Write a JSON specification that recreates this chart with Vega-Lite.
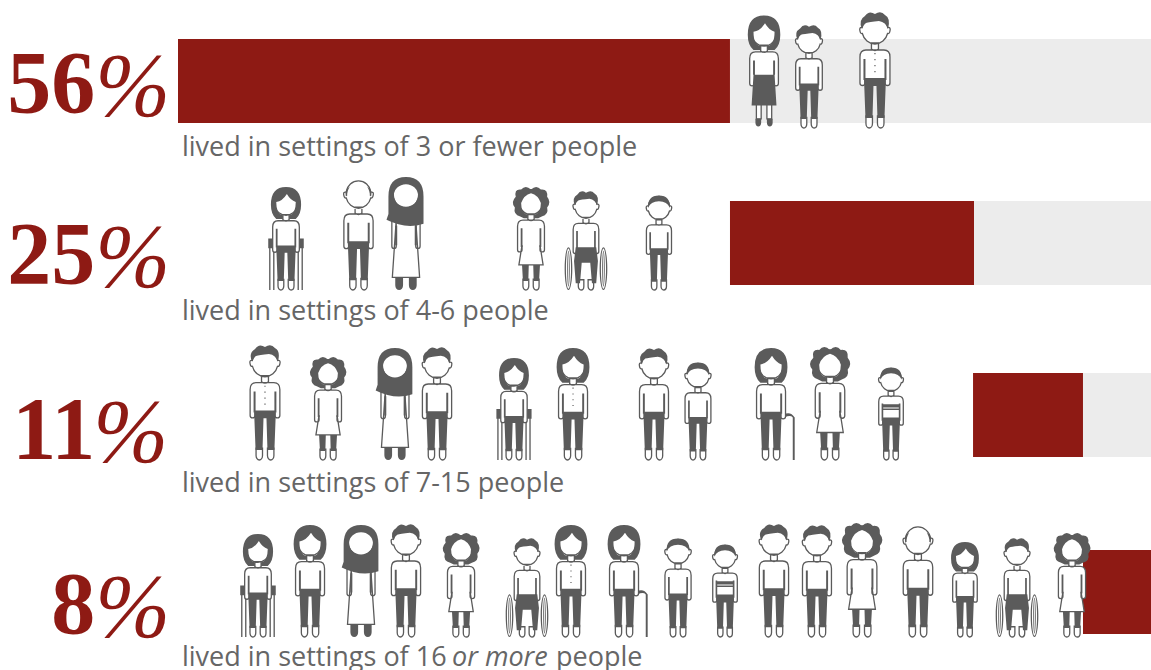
{"$schema":"https://vega.github.io/schema/vega-lite/v6.json","width":1151,"height":670,"padding":0,"autosize":{"type":"none"},"background":"#ffffff","config":{"view":{"stroke":null}},
"datasets":{
"bars":[
{"setting":"3 or fewer","part":"share","start":0,"end":56.73,"top":39,"bottom":123},
{"setting":"3 or fewer","part":"rest","start":56.73,"end":100,"top":39,"bottom":123},
{"setting":"4-6","part":"share","start":56.73,"end":81.81,"top":201,"bottom":285},
{"setting":"4-6","part":"rest","start":81.81,"end":100,"top":201,"bottom":285},
{"setting":"7-15","part":"share","start":81.71,"end":93.01,"top":373,"bottom":457},
{"setting":"7-15","part":"rest","start":93.01,"end":100,"top":373,"bottom":457},
{"setting":"16+","part":"share","start":93.01,"end":100,"top":550,"bottom":634}],
"people":[
{"x":60.23,"feet":126.5,"stature":111,"hair":"long","top":"bare","bottom":"skirt"},
{"x":64.85,"feet":128,"stature":103,"hair":"tousled","top":"shirt","bottom":"trousers"},
{"x":71.63,"feet":128,"stature":116,"hair":"tousled","top":"shirt","bottom":"buttoned"},
{"x":11.1,"feet":290,"stature":103,"hair":"long","top":"shirt","bottom":"trousers","aid":"crutches"},
{"x":18.55,"feet":290,"stature":113,"hair":"bald","top":"shirt","bottom":"trousers"},
{"x":23.43,"feet":290,"stature":113,"hair":"hijab","top":"robe","bottom":"shoes"},
{"x":36.28,"feet":290,"stature":104,"hair":"curly","top":"dress","bottom":"dresslegs"},
{"x":41.93,"feet":290,"stature":99,"hair":"tousled","top":"shirt","bottom":"seated","aid":"wheelchair"},
{"x":49.43,"feet":290,"stature":97,"hair":"short","top":"shirt","bottom":"trousers"},
{"x":8.94,"feet":460,"stature":115,"hair":"tousled","top":"shirt","bottom":"buttoned"},
{"x":15.42,"feet":460,"stature":104,"hair":"curly","top":"dress","bottom":"dresslegs"},
{"x":22.3,"feet":460,"stature":112,"hair":"hijab","top":"robe","bottom":"shoes"},
{"x":26.62,"feet":460,"stature":113,"hair":"tousled","top":"shirt","bottom":"trousers"},
{"x":34.53,"feet":460,"stature":102,"hair":"long","top":"shirt","bottom":"trousers","aid":"crutches"},
{"x":40.6,"feet":460,"stature":112,"hair":"long","top":"shirt","bottom":"buttoned"},
{"x":48.92,"feet":460,"stature":112,"hair":"tousled","top":"shirt","bottom":"trousers"},
{"x":53.44,"feet":460,"stature":100,"hair":"short","top":"shirt","bottom":"trousers"},
{"x":60.95,"feet":460,"stature":112,"hair":"long","top":"shirt","bottom":"trousers","aid":"cane"},
{"x":67.01,"feet":460,"stature":114,"hair":"curly","top":"dress","bottom":"dresslegs"},
{"x":73.28,"feet":460,"stature":95,"hair":"short","top":"shirt","bottom":"striped"},
{"x":8.22,"feet":637,"stature":103,"hair":"long","top":"shirt","bottom":"trousers","aid":"crutches"},
{"x":13.57,"feet":637,"stature":112,"hair":"long","top":"shirt","bottom":"trousers"},
{"x":18.81,"feet":637,"stature":112,"hair":"hijab","top":"robe","bottom":"shoes"},
{"x":23.43,"feet":637,"stature":113,"hair":"tousled","top":"shirt","bottom":"trousers"},
{"x":29.09,"feet":637,"stature":105,"hair":"curly","top":"dress","bottom":"dresslegs"},
{"x":35.87,"feet":637,"stature":99,"hair":"tousled","top":"shirt","bottom":"seated","aid":"wheelchair"},
{"x":40.39,"feet":637,"stature":112,"hair":"long","top":"shirt","bottom":"buttoned"},
{"x":45.84,"feet":637,"stature":112,"hair":"long","top":"shirt","bottom":"trousers","aid":"cane"},
{"x":51.39,"feet":637,"stature":101,"hair":"short","top":"shirt","bottom":"trousers"},
{"x":56.22,"feet":637,"stature":95,"hair":"short","top":"shirt","bottom":"striped"},
{"x":61.25,"feet":637,"stature":113,"hair":"tousled","top":"shirt","bottom":"trousers"},
{"x":65.67,"feet":637,"stature":112,"hair":"tousled","top":"shirt","bottom":"trousers"},
{"x":70.3,"feet":637,"stature":115,"hair":"curly","top":"dress","bottom":"dresslegs"},
{"x":76.05,"feet":637,"stature":114,"hair":"bald","top":"shirt","bottom":"trousers"},
{"x":80.88,"feet":637,"stature":95,"hair":"long","top":"shirt","bottom":"trousers"},
{"x":86.23,"feet":637,"stature":99,"hair":"tousled","top":"shirt","bottom":"seated","aid":"wheelchair"},
{"x":91.88,"feet":637,"stature":105,"hair":"curly","top":"dress","bottom":"dresslegs"}],
"labels":[
{"kind":"digits","x":-8.5,"y":112,"text":"56"},{"kind":"sign","x":-8.5,"y":116,"text":"%"},
{"kind":"digits","x":-8.5,"y":283,"text":"25"},{"kind":"sign","x":-8.5,"y":287,"text":"%"},
{"kind":"digits","x":-8.5,"y":458,"text":"11"},{"kind":"sign","x":-8.7,"y":462,"text":"%"},
{"kind":"digits","x":-8.5,"y":633,"text":"8"},{"kind":"sign","x":-8.5,"y":637,"text":"%"},
{"kind":"caption","x":0.41,"y":156,"text":"lived in settings of 3 or fewer people"},
{"kind":"caption","x":0.41,"y":320,"text":"lived in settings of 4-6 people"},
{"kind":"caption","x":0.41,"y":492,"text":"lived in settings of 7-15 people"},
{"kind":"caption","x":0.41,"y":666,"text":"lived in settings of 16"},
{"kind":"emphasis","x":28.16,"y":666,"text":"or more"},
{"kind":"caption","x":38.85,"y":666,"text":"people"}]},
"encoding":{"x":{"field":"x","type":"quantitative","axis":null,"scale":{"domain":[-18.294,100],"nice":false,"zero":false}}},
"resolve":{"scale":{"shape":"independent"}},
"layer":[
{"data":{"name":"bars"},"mark":{"type":"rect"},"encoding":{"x":{"field":"start","type":"quantitative","axis":null,"scale":{"domain":[-18.294,100],"nice":false,"zero":false}},"x2":{"field":"end"},"y":{"field":"top","type":"quantitative","axis":null,"scale":{"domain":[0,670],"reverse":true,"nice":false,"zero":false}},"y2":{"field":"bottom"},"color":{"field":"part","type":"nominal","legend":null,"scale":{"domain":["share","rest"],"range":["#8e1a14","#ececec"]}}}},
{"data":{"name":"people"},"transform":[{"filter":"isValid(datum.aid)"}],"mark":{"type":"point","filled":true,"fill":"#5b5b5b","stroke":null,"opacity":1},"encoding":{"y":{"field":"feet","type":"quantitative","axis":null,"scale":{"domain":[0,670],"reverse":true,"nice":false,"zero":false}},"size":{"field":"stature","type":"quantitative","legend":null,"scale":{"type":"pow","exponent":2,"domain":[0,116],"range":[0,4]}},"shape":{"field":"aid","type":"nominal","legend":null,"scale":{"domain":["crutches","cane","wheelchair"],"range":[
"M-20,-58h8v11h-8Z M-19,-47h1.5v47h-1.5Z M-14.5,-47h1.5v47h-1.5Z M12,-58h8v11h-8Z M13,-47h1.5v47h-1.5Z M17.5,-47h1.5v47h-1.5Z",
"M13,-47Q20,-51 24.5,-44V0H22.5V-44Q20,-47 14,-44Z",
"M16,-25a4.5,25 0 1,0 9,0a4.5,25 0 1,0 -9,0Z M17.5,-25a3,23.5 0 1,1 6,0a3,23.5 0 1,1 -6,0Z M-25,-25a4.5,25 0 1,0 9,0a4.5,25 0 1,0 -9,0Z M-23.5,-25a3,23.5 0 1,1 6,0a3,23.5 0 1,1 -6,0Z M19,-25a1.5,21 0 1,0 3,0a1.5,21 0 1,0 -3,0Z M20,-25a.5,20 0 1,1 1,0a.5,20 0 1,1 -1,0Z M-22,-25a1.5,21 0 1,0 3,0a1.5,21 0 1,0 -3,0Z M-21,-25a.5,20 0 1,1 1,0a.5,20 0 1,1 -1,0Z"]}}}},
{"data":{"name":"people"},"mark":{"type":"point","filled":true,"fill":"#ffffff","stroke":"#5b5b5b","strokeWidth":1.3,"opacity":1},"encoding":{"y":{"field":"feet","type":"quantitative","axis":null,"scale":{"domain":[0,670],"reverse":true,"nice":false,"zero":false}},"size":{"field":"stature","type":"quantitative","legend":null,"scale":{"type":"pow","exponent":2,"domain":[0,116],"range":[0,4]}},"shape":{"field":"top","type":"nominal","legend":null,"scale":{"domain":["shirt","dress","bare","robe"],"range":[
"M-9,-78H9Q15,-78 15,-71V-45A2.5,2.5 0 0 1 10,-45V-47H-10V-45A2.5,2.5 0 0 1 -15,-45V-71Q-15,-78 -9,-78Z M2.5,-12V-4.5A3.25,4.5 0 0 0 9,-4.5V-12Z M-9,-12V-4.5A3.25,4.5 0 0 0 -2.5,-4.5V-12Z M0,-112A13,14 0 0 1 12.8,-100.5Q16,-101 15,-97Q14.5,-94 12.6,-94.5A13,14 0 0 1 -12.6,-94.5Q-14.5,-94 -15,-97Q-16,-101 -12.8,-100.5A13,14 0 0 1 0,-112Z M-3.5,-85V-79Q0,-76 3.5,-79V-85Z",
"M-9,-78H9Q15,-78 15,-71V-45A2.5,2.5 0 0 1 10,-45V-50L13.5,-28H-13.5L-10,-50V-45A2.5,2.5 0 0 1 -15,-45V-71Q-15,-78 -9,-78Z M2.5,-12V-4.5A3.25,4.5 0 0 0 9,-4.5V-12Z M-9,-12V-4.5A3.25,4.5 0 0 0 -2.5,-4.5V-12Z M-13,-98a13,14 0 1,1 26,0a13,14 0 1,1 -26,0Z M-3.5,-85V-79Q0,-76 3.5,-79V-85Z",
"M-8,-24V-8H-3V-24Z M3,-24V-8H8V-24Z M-9,-78H9Q15,-78 15,-71V-45A2.5,2.5 0 0 1 10,-45V-47H-10V-45A2.5,2.5 0 0 1 -15,-45V-71Q-15,-78 -9,-78Z M-13,-98a13,14 0 1,1 26,0a13,14 0 1,1 -26,0Z M-3.5,-85V-79Q0,-76 3.5,-79V-85Z",
"M10,-72H14.5V-45A2.25,2.25 0 0 1 10,-45Z M-14.5,-72H-10V-45A2.25,2.25 0 0 1 -14.5,-45Z M-10,-72H10L14,-13H-14Z M-13,-98a13,14 0 1,1 26,0a13,14 0 1,1 -26,0Z"]}}}},
{"data":{"name":"people"},"mark":{"type":"point","filled":true,"fill":"#5b5b5b","stroke":null,"opacity":1},"encoding":{"y":{"field":"feet","type":"quantitative","axis":null,"scale":{"domain":[0,670],"reverse":true,"nice":false,"zero":false}},"size":{"field":"stature","type":"quantitative","legend":null,"scale":{"type":"pow","exponent":2,"domain":[0,116],"range":[0,4]}},"shape":{"field":"bottom","type":"nominal","legend":null,"scale":{"domain":["trousers","buttoned","skirt","dresslegs","shoes","seated","striped"],"range":[
"M-11.5,-69H-9.5V-48H-11.5Z M9.5,-69H11.5V-48H9.5Z M-11,-50H11L9.5,-10H2.5L1.5,-42H-1.5L-2.5,-10H-9.5Z",
"M-11.5,-69H-9.5V-48H-11.5Z M9.5,-69H11.5V-48H9.5Z M-11,-50H11L9.5,-10H2.5L1.5,-42H-1.5L-2.5,-10H-9.5Z M-.6,-75h1.2v1.2h-1.2Z M-.6,-69h1.2v1.2h-1.2Z M-.6,-63h1.2v1.2h-1.2Z M-.6,-57h1.2v1.2h-1.2Z",
"M-11.5,-69H-9.5V-54H-11.5Z M9.5,-69H11.5V-54H9.5Z M-11,-54H11L13,-22H-13Z M-9,-8h6v4a3,4 0 0 1 -6,0Z M3,-8h6v4a3,4 0 0 1 -6,0Z",
"M-11.5,-69H-9.5V-48H-11.5Z M9.5,-69H11.5V-48H9.5Z M-10,-28H-2.5L-3,-10H-9Z M2.5,-28H10L9,-10H3Z",
"M-11,-66H-9V-46H-11Z M9,-66H11V-46H9Z M-11,-13H-3V-5A4,5 0 0 1 -11,-5Z M3,-13H11V-5A4,5 0 0 1 3,-5Z",
"M-11.5,-69H-9.5V-48H-11.5Z M9.5,-69H11.5V-48H9.5Z M-12,-50H12L14,-34L12,-8H7L5,-32H-5L-7,-8H-12L-14,-34Z",
"M-11.5,-69H-9.5V-48H-11.5Z M9.5,-69H11.5V-48H9.5Z M-11,-68H11V-64H-11Z M-11,-63H11V-61H-11Z M-11,-52H11L9.5,-10H2.5L1.5,-42H-1.5L-2.5,-10H-9.5Z"]}}}},
{"data":{"name":"people"},"mark":{"type":"point","filled":true,"fill":"#5b5b5b","stroke":null,"opacity":1},"encoding":{"y":{"field":"feet","type":"quantitative","axis":null,"scale":{"domain":[0,670],"reverse":true,"nice":false,"zero":false}},"size":{"field":"stature","type":"quantitative","legend":null,"scale":{"type":"pow","exponent":2,"domain":[0,116],"range":[0,4]}},"shape":{"field":"hair","type":"nominal","legend":null,"scale":{"domain":["long","tousled","short","bald","curly","hijab"],"range":[
"M0,-116Q-17,-116 -17,-96Q-17,-85 -11,-80H11Q17,-85 17,-96Q17,-116 0,-116Z M-11,-99Q-4,-100 1,-108Q5,-101 11,-99Q11,-85 3.5,-84V-80H-3.5V-84Q-11,-85 -11,-99Z",
"M-13,-99Q-17,-108 -10,-112Q-6,-118 0,-114Q6,-118 10,-113Q16,-110 13,-99Q11,-106 4,-107Q-6,-106 -9,-105Q-12,-103 -13,-99Z",
"M-13,-98Q-14,-113 0,-113Q14,-113 13,-98Q10,-106 0,-106Q-10,-106 -13,-98Z",
"M-12,-104Q-14,-100 -13,-96L-11.5,-97Q-12,-101 -9,-106Z M12,-104Q14,-100 13,-96L11.5,-97Q12,-101 9,-106Z",
"M0,-112Q-6,-118 -11,-112Q-19,-113 -17,-104Q-23,-98 -18,-92Q-20,-84 -12,-82L-8,-80H8L12,-82Q20,-84 18,-92Q23,-98 18,-104Q19,-113 11,-112Q6,-118 0,-112Z M-11,-97Q-8,-106 0,-108Q8,-106 11,-97Q11,-85 3.5,-84V-80H-3.5V-84Q-11,-85 -11,-97Z",
"M0,-116Q-18,-116 -18,-96V-78L-20,-72Q0,-62 18,-68V-96Q18,-116 0,-116Z M-12.5,-97a12.5,11.5 0 1,1 25,0a12.5,11.5 0 1,1 -25,0Z"]}}}},
{"data":{"name":"labels"},"transform":[{"filter":"datum.kind==='digits'"}],"mark":{"type":"text","align":"right","baseline":"alphabetic","font":"Liberation Serif","fontWeight":"bold","fontSize":88,"color":"#8e1a14"},"encoding":{"y":{"field":"y","type":"quantitative","axis":null,"scale":{"domain":[0,670],"reverse":true,"nice":false,"zero":false}},"text":{"field":"text"}}},
{"data":{"name":"labels"},"transform":[{"filter":"datum.kind==='sign'"}],"mark":{"type":"text","align":"left","baseline":"alphabetic","font":"Liberation Serif","fontStyle":"italic","fontSize":90,"color":"#8e1a14"},"encoding":{"y":{"field":"y","type":"quantitative","axis":null,"scale":{"domain":[0,670],"reverse":true,"nice":false,"zero":false}},"text":{"field":"text"}}},
{"data":{"name":"labels"},"transform":[{"filter":"datum.kind==='caption'"}],"mark":{"type":"text","align":"left","baseline":"alphabetic","font":"Open Sans","fontSize":27,"color":"#666666"},"encoding":{"y":{"field":"y","type":"quantitative","axis":null,"scale":{"domain":[0,670],"reverse":true,"nice":false,"zero":false}},"text":{"field":"text"}}},
{"data":{"name":"labels"},"transform":[{"filter":"datum.kind==='emphasis'"}],"mark":{"type":"text","align":"left","baseline":"alphabetic","font":"Open Sans","fontStyle":"italic","fontSize":27,"color":"#666666"},"encoding":{"y":{"field":"y","type":"quantitative","axis":null,"scale":{"domain":[0,670],"reverse":true,"nice":false,"zero":false}},"text":{"field":"text"}}}
]}
